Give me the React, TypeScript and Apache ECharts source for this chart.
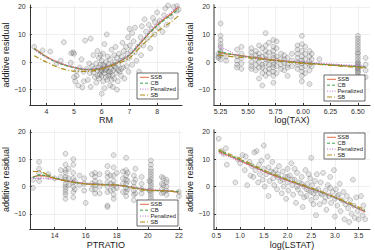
import React, { useEffect, useRef } from "react";
import * as echarts from "echarts";

const seriesNames = ["SSB", "CB", "Penalized", "SB"];
const seriesColors = ["#e26f46", "#3da44d", "#c271d2", "#ac8d18"];
const yTicks = [-10, 0, 10, 20];

// Panel 1: RM
const rmPoints: number[][] = [
  [3.56, 5.5], [3.86, 4.2], [4.14, 3.8], [4.37, -0.5], [4.52, 0.5], [4.63, 7.2], [4.88, -0.3], [4.9, 3.2], [4.97, 3.5], [5.0, 3.0],
  [5.0, -5.5], [5.04, -7.0], [5.09, -3.2], [5.1, -5.0], [5.15, -8.5], [5.2, -2.0], [5.27, 1.0], [5.34, -3.5], [5.35, -7.0], [5.4, 7.8],
  [5.45, -2.5], [5.5, -6.5], [5.57, -4.0], [5.6, 8.5], [5.6, -9.0], [5.65, -1.5], [5.7, -3.8], [5.7, 2.5], [5.75, -5.5], [5.8, -0.5],
  [5.8, -7.5], [5.85, -3.0], [5.85, 4.0], [5.88, -2.0], [5.9, -6.0], [5.9, 1.5], [5.93, -4.5], [5.95, -1.0], [5.97, -3.5], [6.0, -11.5],
  [6.0, -5.0], [6.0, 0.5], [6.02, -2.5], [6.05, 3.0], [6.05, -7.0], [6.08, -4.0], [6.1, -1.5], [6.1, 6.5], [6.12, -3.0], [6.15, -5.5],
  [6.15, 0.0], [6.18, 10.0], [6.2, -2.0], [6.2, -6.5], [6.22, 2.0], [6.25, -3.5], [6.25, -0.8], [6.28, -4.5], [6.3, 1.0], [6.3, -8.5],
  [6.33, -2.5], [6.35, 4.5], [6.38, -5.0], [6.4, -1.0], [6.42, -3.0], [6.45, 2.5], [6.45, -6.0], [6.48, 0.0], [6.5, -2.0], [6.5, 5.5],
  [6.52, -4.0], [6.55, 1.5], [6.58, -7.0], [6.6, -1.0], [6.62, 3.0], [6.65, -3.5], [6.68, 0.5], [6.7, -5.0], [6.72, 2.0], [6.75, 7.0],
  [6.78, -2.0], [6.8, 4.0], [6.82, -6.0], [6.85, 1.0], [6.88, 5.5], [6.9, -1.5], [6.92, 3.0], [6.95, 9.0], [6.97, -3.5], [7.0, 12.0],
  [7.0, 1.5], [7.02, 6.0], [7.05, 4.0], [7.1, 10.5], [7.1, -1.0], [7.15, 7.5], [7.2, 3.5], [7.2, 12.5], [7.25, 0.5], [7.3, 5.5],
  [7.35, -3.5], [7.4, 9.0], [7.42, 2.5], [7.45, 13.0], [7.5, 6.0], [7.55, 15.5], [7.6, 11.0], [7.65, 8.5], [7.7, 13.5], [7.75, 5.0],
  [7.8, 12.0], [7.85, 16.0], [7.9, 10.0], [7.92, 14.5], [8.0, 18.0], [8.03, 12.5], [8.1, 15.0], [8.2, 11.0], [8.25, 17.0], [8.3, 19.5],
  [8.35, 13.5], [8.4, 20.5], [8.5, 16.5], [8.6, 20.0], [8.7, 18.5], [8.72, 20.3], [8.78, 19.0], [5.3, -9.2], [5.55, -0.5], [5.95, 2.5],
  [6.1, -9.5], [6.4, -9.0], [6.55, -10.0], [5.72, -2.5], [6.0, -3.0], [6.15, -2.5], [6.3, -3.5], [6.45, -1.5], [6.05, -1.0], [6.25, -5.0],
  [5.85, -5.0], [6.35, -6.5], [6.6, -3.0], [6.7, -2.5],
];
const rmX = [3.56, 4.0, 4.5, 5.0, 5.5, 6.0, 6.5, 7.0, 7.5, 8.0, 8.5, 8.78];
const rmSSB = [5.0, 2.0, -0.5, -2.0, -2.8, -2.3, -0.5, 2.5, 8.0, 13.5, 17.5, 20.0];
const rmCB = [4.8, 1.8, -0.6, -2.0, -2.7, -2.2, -0.4, 2.6, 8.2, 13.2, 17.0, 19.3];
const rmPen = [4.5, 1.6, -0.4, -1.8, -2.6, -2.0, -0.3, 2.8, 8.5, 14.0, 18.0, 20.5];
const rmSB = [2.3, 0.0, -2.2, -3.3, -3.4, -2.5, -0.8, 1.5, 6.5, 11.0, 14.5, 16.8];

// Panel 2: log(TAX), columns of residuals at each value
const taxColumns: [number, number[]][] = [
  [5.23, [3.0, 2.0, 1.5]],
  [5.25, [14.0, 9.5, 8.0, 6.5, 5.5, 4.0, 3.5, 2.5, 1.0]],
  [5.3, [2.0, 0.5]],
  [5.4, [4.5, 2.0, 0.5, -1.0, -2.0]],
  [5.44, [5.5, 3.0, 1.5, -0.5, -2.5]],
  [5.53, [5.0, 3.5, 2.0, 0.0, -1.5, -2.5]],
  [5.57, [4.0, 2.5, 1.0, -1.0, -3.0]],
  [5.6, [6.0, 3.0, 1.5, 0.0, -2.0, -6.0]],
  [5.63, [5.0, 2.0, -1.0, -4.0, -8.5, -2.0]],
  [5.66, [10.5, 6.0, 4.0, 2.5, 1.0, -0.5, -3.0, -5.0]],
  [5.69, [7.0, 3.5, 1.0, -1.0, -2.5, -4.0]],
  [5.73, [8.0, 5.5, 4.0, 2.5, 1.5, 0.0, -1.0, -2.0, -3.5, -5.0, -7.5]],
  [5.76, [7.5, 5.0, 2.0, 0.5, -1.5, -4.0]],
  [5.8, [3.0, 1.0, -1.0, -2.5]],
  [5.83, [2.5, 1.0, -0.5, -3.0]],
  [5.86, [1.5, -1.0, -2.0, -5.0]],
  [5.9, [3.0, 0.5, -1.5]],
  [5.95, [6.0, 4.5, 3.0, 1.5, 0.0, -1.0, -2.5]],
  [5.99, [9.5, 6.5, 4.0, 2.0, 0.5, -0.5, -2.0, -3.5, -5.0, -7.0]],
  [6.02, [5.5, 3.0, 1.0, -1.5, -4.0]],
  [6.06, [4.0, 2.0, 0.0, -1.0, -3.0, -8.0]],
  [6.08, [3.0, 1.0, -1.5]],
  [6.15, [1.0]],
  [6.5, [9.5, 8.5, 7.5, 6.5, 5.5, 4.5, 3.5, 3.0, 2.0, 1.0, 0.0, -0.5, -1.0, -1.5, -2.0, -2.5, -3.0, -3.5, -4.0, -5.0, -6.0, -7.5, -9.0]],
  [6.57, [1.5, -1.0, -3.0, -5.5]],
];
const taxX = [5.23, 5.3, 5.4, 5.5, 5.75, 6.0, 6.1, 6.25, 6.57];
const taxSSB = [3.5, 3.0, 2.5, 2.0, 0.7, -0.3, -0.6, -1.0, -1.9];
const taxCB = [3.8, 3.2, 2.5, 1.9, 0.5, -0.2, -0.6, -1.0, -1.8];
const taxPen = [5.5, 4.5, 2.5, 1.8, 0.5, 0.2, -0.2, -0.7, -1.5];
const taxSB = [2.5, 2.2, 1.8, 1.5, 0.5, -0.5, -0.8, -1.2, -2.2];

// Panel 3: PTRATIO
const ptColumns: [number, number[]][] = [
  [12.6, [2.5, -0.5]],
  [13.0, [9.0, 6.5, 5.0, 3.5, 2.0]],
  [13.6, [4.5, 3.5]],
  [14.0, [3.0]],
  [14.4, [3.5, 6.0]],
  [14.7, [12.0, 8.0, 6.0, 5.0, 3.5, 2.5, 1.0, 0.0, -1.0, -2.0, -3.0, -4.5]],
  [14.9, [6.5, 3.0, 0.5]],
  [15.2, [10.0, 8.0, 5.0, 3.0, 1.5, 0.0, -2.0, -4.0]],
  [15.3, [2.0, -1.0]],
  [15.6, [4.0, 0.5]],
  [15.9, [3.0, 1.0, -1.5]],
  [16.0, [-6.0]],
  [16.4, [4.5, 1.0, -1.0]],
  [16.6, [5.0, 3.5, 2.0, 0.5, -1.0, -2.5]],
  [16.9, [4.5, 1.5, -2.5, 0.0]],
  [17.4, [7.5, 5.0, 3.5, 1.5, 0.0, -2.0, -7.0, -7.5]],
  [17.6, [4.0, 1.0, -1.5]],
  [17.8, [11.5, 7.0, 4.0, 2.0, 0.5, -1.0, -3.0, -4.5]],
  [18.0, [5.0, -0.5]],
  [18.4, [5.5, 3.0, 1.0, -2.0]],
  [18.6, [10.5, 6.0, 4.0, 2.5, 1.0, -0.5, -2.0, -3.5]],
  [18.7, [5.0, 2.0, -1.0]],
  [19.1, [4.0, 1.5, 0.0, -1.5, -3.0, -5.0]],
  [19.2, [6.5, 2.5, -2.5]],
  [19.6, [3.5, 1.0, -1.0, -2.5]],
  [20.1, [2.0, -1.5]],
  [20.2, [9.5, 8.0, 6.5, 5.5, 4.5, 3.5, 2.5, 1.5, 0.5, -0.5, -1.5, -2.5, -3.5, -4.5, -6.0, -7.5]],
  [20.9, [3.5, 1.0, -1.0, -2.5]],
  [21.0, [3.0, 0.5, -2.0]],
  [21.2, [2.5, 1.5, 0.0, -1.5, -3.0]],
  [22.0, [-2.0, -3.5]],
];
const ptX = [12.6, 13.0, 13.5, 14.0, 15.0, 16.0, 17.0, 18.0, 19.0, 20.0, 21.0, 22.0];
const ptSSB = [3.5, 4.0, 3.8, 3.0, 1.8, 1.0, 0.7, 0.5, -0.3, -1.2, -1.5, -2.0];
const ptCB = [3.2, 4.2, 4.0, 3.2, 1.8, 1.0, 0.8, 0.5, -0.3, -1.3, -1.6, -1.8];
const ptPen = [3.0, 3.0, 2.9, 2.8, 2.0, 1.2, 0.8, 0.4, -0.2, -1.0, -1.5, -2.0];
const ptSB = [5.5, 5.5, 4.5, 3.0, 1.8, 1.0, 0.6, 0.6, -0.5, -1.5, -1.5, -2.2];

// Panel 4: log(LSTAT)
const lstatPoints: number[][] = [
  [0.55, 17.5], [0.6, 13.0], [0.65, 12.0], [0.7, 14.0], [0.72, 8.0], [0.9, 1.5], [0.95, 10.0], [1.0, 8.5], [1.05, 11.5], [1.1, 6.0],
  [1.12, 11.0], [1.15, 0.5], [1.2, 9.0], [1.22, 4.0], [1.25, 7.5], [1.28, 3.5], [1.3, 12.5], [1.32, 6.0], [1.35, 13.0], [1.38, 1.5],
  [1.4, 8.0], [1.42, 4.5], [1.45, 9.5], [1.48, 2.5], [1.5, 15.0], [1.5, 6.5], [1.52, 0.0], [1.55, 4.5], [1.58, 11.0], [1.6, 7.0],
  [1.6, -3.5], [1.62, 2.0], [1.65, 5.5], [1.68, 9.0], [1.7, 3.0], [1.72, 0.5], [1.75, 6.0], [1.78, -1.0], [1.8, 4.5], [1.82, 7.5],
  [1.85, 2.0], [1.88, -2.5], [1.9, 5.5], [1.92, 0.0], [1.95, 3.5], [1.97, -4.5], [2.0, 6.5], [2.0, 1.5], [2.02, -1.5], [2.05, 4.0],
  [2.08, 8.5], [2.1, 0.5], [2.12, -3.0], [2.15, 2.5], [2.18, -6.0], [2.2, 5.0], [2.22, -1.0], [2.25, 1.5], [2.28, -2.5], [2.3, 3.5],
  [2.32, -7.5], [2.35, 0.0], [2.38, 6.0], [2.4, -3.5], [2.42, 1.0], [2.45, -1.5], [2.48, 3.0], [2.5, -5.0], [2.5, 10.5], [2.52, 0.5],
  [2.55, -2.5], [2.58, 2.0], [2.6, -4.0], [2.6, -10.5], [2.62, 4.5], [2.65, -1.0], [2.68, -6.5], [2.7, 1.5], [2.72, -3.0], [2.75, 5.0],
  [2.78, -5.5], [2.8, -1.5], [2.82, -8.5], [2.85, 0.5], [2.88, -3.5], [2.9, 3.5], [2.92, -6.0], [2.95, -2.0], [2.98, 6.0], [3.0, -4.5],
  [3.0, -11.0], [3.02, -1.0], [3.05, -7.0], [3.08, -3.0], [3.1, 1.0], [3.12, -9.0], [3.15, -5.0], [3.18, -2.0], [3.2, -12.0], [3.22, -6.5],
  [3.25, -3.5], [3.28, -8.0], [3.3, -13.0], [3.32, -5.0], [3.35, -10.0], [3.38, 2.5], [3.4, -7.0], [3.42, -11.5], [3.45, -4.0], [3.48, -9.0],
  [3.5, -12.0], [3.55, -3.5], [3.58, -10.5], [3.6, -7.0], [3.64, -12.0], [2.0, 3.5], [2.1, 2.5], [2.2, 0.0], [2.3, 1.0], [2.4, -1.0],
  [2.5, -2.0], [2.6, -1.5], [2.7, -2.5], [2.8, -4.0], [1.9, 2.5], [1.8, 3.5], [1.7, 5.0], [2.15, 6.5], [2.45, 4.5], [2.9, -0.5],
  [3.05, -3.5], [2.35, -4.0], [2.55, -6.5],
];
const lstatX = [0.55, 1.0, 1.5, 2.0, 2.5, 3.0, 3.3, 3.64];
const lstatSSB = [12.8, 9.5, 5.5, 2.2, -0.8, -4.0, -6.5, -9.3];
const lstatCB = [13.2, 9.8, 5.8, 2.4, -0.7, -4.2, -6.5, -9.0];
const lstatPen = [12.3, 9.3, 5.4, 2.1, -0.9, -4.1, -6.6, -9.2];
const lstatSB = [13.5, 10.2, 6.0, 2.5, -0.5, -3.8, -6.0, -8.5];

const FONT = "Liberation Sans";
const fmtMinus = (v: number, digits: number) => {
  const s = digits > 0 ? v.toFixed(digits) : String(v);
  return s.replace("-", "\u2212");
};

const flatten = (cols: [number, number[]][]) => {
  const out: number[][] = [];
  cols.forEach(([x, ys]) => ys.forEach((y) => out.push([x, y])));
  return out;
};

const panels = [
  { name: "RM", grid: { left: 27, top: 5, width: 155, height: 100 }, xMin: 3.4, xMax: 8.9, xTicks: [4, 5, 6, 7, 8], digits: 0, points: rmPoints, lx: rmX, lines: [rmSSB, rmCB, rmPen, rmSB], thick: false, legend: { left: 137, top: 73 } },
  { name: "log(TAX)", grid: { left: 214, top: 5, width: 156, height: 100 }, xMin: 5.19, xMax: 6.61, xTicks: [5.25, 5.5, 5.75, 6.0, 6.25, 6.5], digits: 2, points: flatten(taxColumns), lx: taxX, lines: [taxSSB, taxCB, taxPen, taxSB], thick: true, legend: { left: 324, top: 75 } },
  { name: "PTRATIO", grid: { left: 27, top: 130, width: 155, height: 100 }, xMin: 12.4, xMax: 22.2, xTicks: [14, 16, 18, 20, 22], digits: 0, points: flatten(ptColumns), lx: ptX, lines: [ptSSB, ptCB, ptPen, ptSB], thick: false, legend: { left: 137, top: 200 } },
  { name: "log(LSTAT)", grid: { left: 214, top: 130, width: 156, height: 100 }, xMin: 0.45, xMax: 3.74, xTicks: [0.5, 1.0, 1.5, 2.0, 2.5, 3.0, 3.5], digits: 1, points: lstatPoints, lx: lstatX, lines: [lstatSSB, lstatCB, lstatPen, lstatSB], thick: true, legend: { left: 324, top: 133 } },
];

const lineTypes: any[] = ["solid", [3, 2], [1, 1.5], [5, 2, 1, 2]];

export default function App() {
  const ref = useRef<HTMLDivElement>(null);
  useEffect(() => {
    document.body.style.margin = "0";
    if (!ref.current) return;
    const chart = echarts.init(ref.current, null, { renderer: "svg" });
    const grid: any[] = [];
    const xAxis: any[] = [];
    const yAxis: any[] = [];
    const series: any[] = [];
    const graphic: any[] = [];
    panels.forEach((p, i) => {
      grid.push({ ...p.grid, containLabel: false });
      xAxis.push({
        type: "value", gridIndex: i, min: p.xMin, max: p.xMax,
        name: p.name, nameLocation: "middle", nameGap: 10,
        nameTextStyle: { fontFamily: FONT, fontSize: 9, color: "#222" },
        axisLine: { show: true, onZero: false, lineStyle: { color: "#333", width: 1 } },
        axisTick: { show: true, inside: true, length: 2, customValues: p.xTicks, lineStyle: { color: "#333" } },
        axisLabel: { customValues: p.xTicks, fontFamily: FONT, fontSize: 7, color: "#333", margin: 3, formatter: (v: number) => fmtMinus(v, p.digits) },
        splitLine: { show: true, lineStyle: { color: "#e6e6e6", width: 0.6 } },
      });
      yAxis.push({
        type: "value", gridIndex: i, min: -15.6, max: 20.7,
        name: "additive residual", nameLocation: "middle", nameGap: 17, nameRotate: 90,
        nameTextStyle: { fontFamily: FONT, fontSize: 9, color: "#222" },
        axisLine: { show: true, onZero: false, lineStyle: { color: p.thick ? "#9a9a9a" : "#333", width: p.thick ? 2 : 1 } },
        axisTick: { show: true, inside: true, length: 2, customValues: yTicks, lineStyle: { color: "#333" } },
        axisLabel: { customValues: yTicks, fontFamily: FONT, fontSize: 7, color: "#333", margin: 4, formatter: (v: number) => fmtMinus(v, 0) },
        splitLine: { show: true, lineStyle: { color: "#e6e6e6", width: 0.6 } },
      });
      series.push({
        type: "scatter", name: "data", xAxisIndex: i, yAxisIndex: i, data: p.points,
        symbol: "circle", symbolSize: 5,
        itemStyle: { color: "rgba(140,140,140,0.28)", borderColor: "rgba(60,60,60,0.5)", borderWidth: 0.6 },
        z: 1,
      });
      p.lines.forEach((ys, k) => {
        series.push({
          type: "line", name: seriesNames[k], xAxisIndex: i, yAxisIndex: i,
          data: p.lx.map((x, j) => [x, ys[j]]),
          smooth: 0.3, symbol: "none",
          lineStyle: { color: seriesColors[k], width: 1.2, type: lineTypes[k] },
          itemStyle: { color: seriesColors[k] },
          z: 3 + k,
        });
      });
      const L = p.legend.left;
      const T = p.legend.top;
      const children: any[] = [
        { type: "rect", shape: { x: L, y: T, width: 41, height: 26 }, style: { fill: "#fff", stroke: "#444", lineWidth: 0.8 }, z: 100 },
      ];
      seriesNames.forEach((n, k) => {
        const yy = T + 4.3 + k * 5.9;
        const dash = lineTypes[k] === "solid" ? null : lineTypes[k];
        children.push({
          type: "line", shape: { x1: L + 3, y1: yy, x2: L + 12, y2: yy },
          style: { stroke: seriesColors[k], lineWidth: 1, lineDash: dash }, z: 101,
        });
        children.push({
          type: "text", x: L + 13.5, y: yy,
          style: { text: n, fontFamily: FONT, fontSize: 5.8, lineHeight: 5.8, fill: "#222", verticalAlign: "middle", align: "left" }, z: 101,
        });
      });
      graphic.push({ type: "group", children });
    });
    chart.setOption({ animation: false, backgroundColor: "#fff", grid, xAxis, yAxis, series, graphic });
    return () => chart.dispose();
  }, []);
  return <div ref={ref} style={{ width: 375, height: 250 }} />;
}
